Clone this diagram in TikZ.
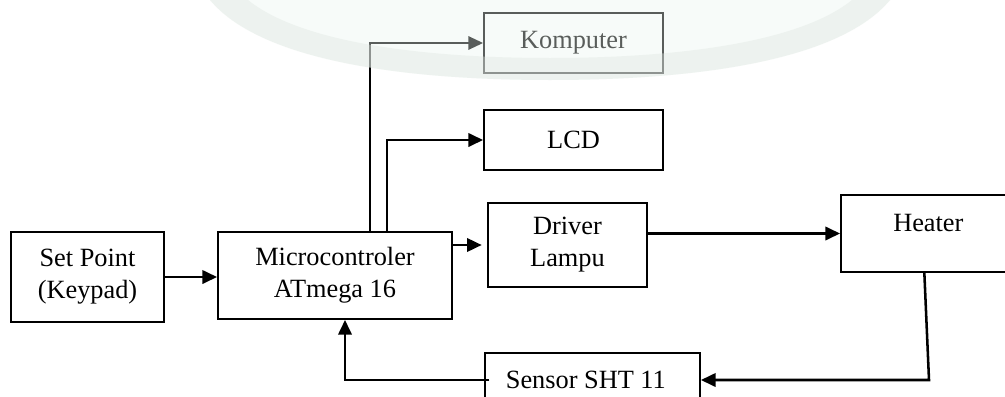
\documentclass[tikz,border=0pt]{standalone}
\usepackage{fontspec}
\setmainfont{Liberation Serif}
\usepackage{tikz}
\usetikzlibrary{arrows.meta}

\definecolor{wmgreen}{RGB}{236,247,240}
\definecolor{wmband}{RGB}{222,230,224}

\begin{document}
\begin{tikzpicture}[x=0.75pt,y=-0.75pt,
  font=\fontsize{19.75pt}{24pt}\selectfont,
  box/.style={draw,line width=1.4pt,inner sep=0pt,align=center},
  arr/.style={line width=1.9pt,-{Triangle[length=11pt,width=10pt]}}]
\fill[white] (0,0) rectangle (1005,396);
\useasboundingbox (0,0) rectangle (1005,396);

\node[box,minimum width=114.75pt,minimum height=67.5pt] (SP) at (87.5,277) {Set Point\\(Keypad)};
\node[box,minimum width=175.5pt,minimum height=65.25pt] (MC) at (335,275.5) {Microcontroler\\ATmega 16};
\node[box,minimum width=134.25pt,minimum height=45pt] (KOM) at (573.5,43) {Komputer};
\node[box,minimum width=134.25pt,minimum height=45pt] (LCD) at (573.5,140) {LCD};
\node[box,minimum width=119.25pt,minimum height=63pt] (DRV) at (567.5,245) {Driver\\Lampu};
\node[box,minimum width=141pt,minimum height=57.75pt,
  label={[anchor=base,xshift=-5pt,yshift=-27.75pt]north:Heater}] (HTR) at (935,233.5) {};
\node[box,minimum width=161.25pt,minimum height=40.5pt] (SNS) at (592.5,380) {Sensor SHT 11\hspace{10pt}};

\draw[arr] (SP.east) -- (SP.east -| MC.west);
\draw[arr,shorten >=4pt] (MC.east |- DRV.west) -- (DRV.west);
\draw[arr] (DRV.east |- HTR.west) -- (HTR.west);

\draw[arr,line width=1.4pt] ([xshift=26.25pt]MC.north) |- (KOM.west);
\draw[arr] ([xshift=39pt]MC.north) |- (LCD.west);

\draw[arr] ([xshift=-8pt]HTR.south) -- ([xshift=-4.5pt]HTR.south |- SNS.east) -- (SNS.east);
\draw[arr] ([xshift=4pt]SNS.west) -| ([xshift=7.5pt]MC.south);

\fill[wmgreen,opacity=0.38] (210,0) .. controls (260,60) and (400,80) .. (550,80)
  .. controls (700,80) and (840,60) .. (890,0) -- cycle;
\fill[wmband,opacity=0.4] (210,0) .. controls (260,60) and (400,80) .. (550,80)
  .. controls (700,80) and (840,60) .. (890,0) -- (852,0)
  .. controls (800,42) and (680,58) .. (550,58)
  .. controls (420,58) and (300,42) .. (248,0) -- cycle;
\end{tikzpicture}
\end{document}
